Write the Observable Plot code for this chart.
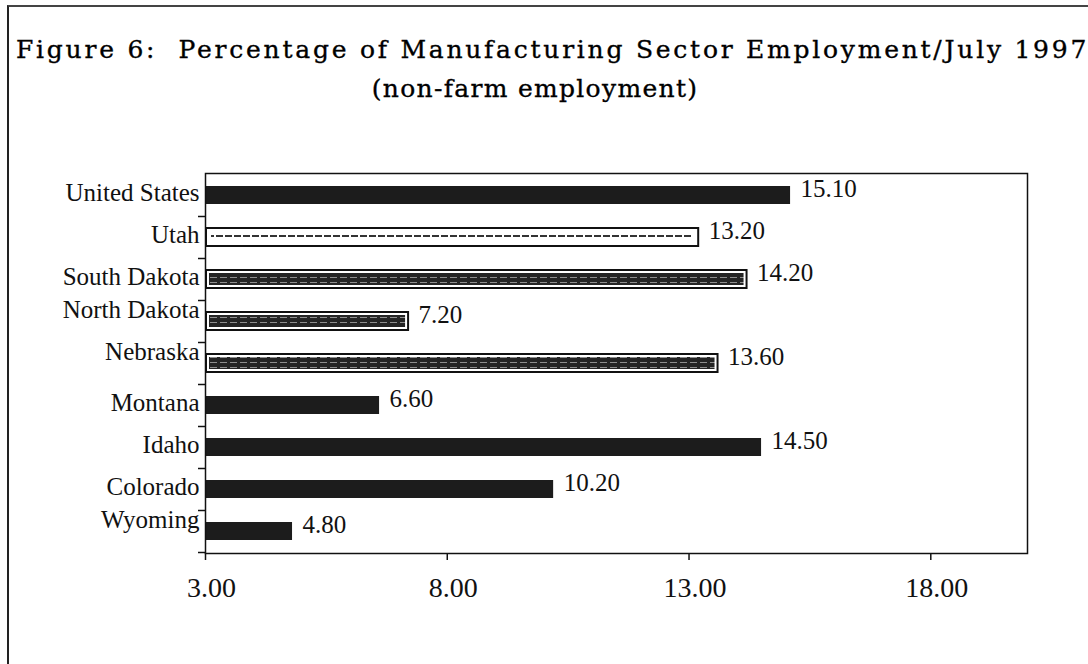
<!DOCTYPE html>
<html>
<head>
<meta charset="utf-8">
<script src="https://cdn.jsdelivr.net/npm/d3@7"></script>
<script src="https://cdn.jsdelivr.net/npm/@observablehq/plot@0.6"></script>
<style>
  html, body { margin: 0; padding: 0; background: #fff; }
  body { width: 1088px; height: 664px; overflow: hidden; position: relative; font-family: "Liberation Serif", "DejaVu Serif", serif; color: #111; }
  #border { position: absolute; left: 7px; top: 5px; width: 1200px; height: 800px; border-left: 2px solid #222; border-top: 2px solid #444; }
  #title { position: absolute; left: 16px; top: 33px; font-family: "DejaVu Serif", serif; font-size: 25px; letter-spacing: 2.75px; white-space: nowrap; line-height: 34px; color: #000; -webkit-text-stroke: 0.35px #000; }
  #subtitle { position: absolute; left: 0; width: 1070px; top: 72px; text-align: center; font-family: "DejaVu Serif", serif; font-size: 25px; letter-spacing: 1.3px; white-space: nowrap; line-height: 34px; color: #000; -webkit-text-stroke: 0.35px #000; }
  #chart { position: absolute; left: 0; top: 130px; }
</style>
</head>
<body>
<div id="border"></div>
<div id="title">Figure 6:&nbsp; Percentage of Manufacturing Sector Employment/July 1997</div>
<div id="subtitle">(non-farm employment)</div>
<div id="chart"></div>
<script>
// ---- data ----
const categories = ["United States", "Utah", "South Dakota", "North Dakota", "Nebraska", "Montana", "Idaho", "Colorado", "Wyoming"];
const values = [15.10, 13.20, 14.20, 7.20, 13.60, 6.60, 14.50, 10.20, 4.80];
const xTicks = [3, 8, 13, 18];
const xDomain = [3, 20];

// ---- build ----
const data = categories.map((c, i) => ({category: c, value: values[i]}));
const hollow = new Set(["Utah"]);
const hatched = new Set(["South Dakota", "North Dakota", "Nebraska"]);
const raised = new Set(["North Dakota", "Nebraska", "Wyoming"]);
const solidData = data.filter(d => !hollow.has(d.category) && !hatched.has(d.category));
const hollowData = data.filter(d => hollow.has(d.category));
const hatchedData = data.filter(d => hatched.has(d.category));
const base = xDomain[0];

const chart = Plot.plot({
  width: 1088,
  height: 534,
  marginLeft: 205,
  marginRight: 61,
  marginTop: 43,
  marginBottom: 111,
  style: {fontFamily: "'Liberation Serif', serif", background: "transparent", color: "#111"},
  x: {domain: xDomain},
  y: {domain: categories, paddingInner: 0.56, paddingOuter: 0.28},
  marks: [
    Plot.axisX({ticks: xTicks, tickSize: 7, tickFormat: () => "", stroke: "#111", strokeWidth: 1.5, label: null}),
    Plot.axisX({ticks: xTicks, tickFormat: d => d.toFixed(2), tickSize: 0, tickPadding: 24, dx: 6, fontSize: 28, label: null}),
    Plot.axisY({ticks: categories.filter(c => !raised.has(c)), tickSize: 0, tickPadding: 6, dy: -3, fontSize: 25, label: null}),
    Plot.axisY({ticks: categories.filter(c => raised.has(c)), tickSize: 0, tickPadding: 6, dy: -12, fontSize: 25, label: null}),
    Plot.axisY({tickSize: 7, dy: 21, tickFormat: () => "", label: null, stroke: "#111", strokeWidth: 1.5}),
    Plot.barX(solidData, {y: "category", x1: () => base, x2: "value", fill: "#1c1c1c"}),
    Plot.barX(hollowData, {y: "category", x1: () => base, x2: "value", fill: "#fff", stroke: "#111", strokeWidth: 2, insetLeft: 1}),
    Plot.barX(hollowData, {y: "category", x1: () => base, x2: "value", fill: "url(#speck)", insetTop: 7, insetBottom: 8, insetLeft: 6, insetRight: 6}),
    Plot.barX(hatchedData, {y: "category", x1: () => base, x2: "value", fill: "#fff", stroke: "#111", strokeWidth: 2, insetLeft: 1}),
    Plot.barX(hatchedData, {y: "category", x1: () => base, x2: "value", fill: "url(#hatch)", insetTop: 3, insetBottom: 3, insetLeft: 4, insetRight: 3}),
    Plot.text(data, {y: "category", x: "value", text: d => d.value.toFixed(2), textAnchor: "start", dx: 10, dy: -7, fontSize: 25, fill: "#111", style: "letter-spacing:2.5px"}),
    Plot.frame({stroke: "#111", strokeWidth: 1.5})
  ]
});

// patterns for the scanned-looking fills
const ns = "http://www.w3.org/2000/svg";
const defs = document.createElementNS(ns, "defs");
defs.innerHTML = `
  <pattern id="hatch" patternUnits="userSpaceOnUse" width="10" height="5">
    <rect width="10" height="5" fill="#242424"/>
    <line x1="0" y1="2.5" x2="7" y2="2.5" stroke="#9a9a9a" stroke-width="0.9"/>
  </pattern>
  <pattern id="speck" patternUnits="userSpaceOnUse" width="9" height="4">
    <rect width="9" height="4" fill="#fff"/>
    <rect x="0" y="0" width="7" height="3" fill="#333"/>
  </pattern>`;
chart.insertBefore(defs, chart.firstChild);
document.getElementById("chart").appendChild(chart);
</script>
</body>
</html>
